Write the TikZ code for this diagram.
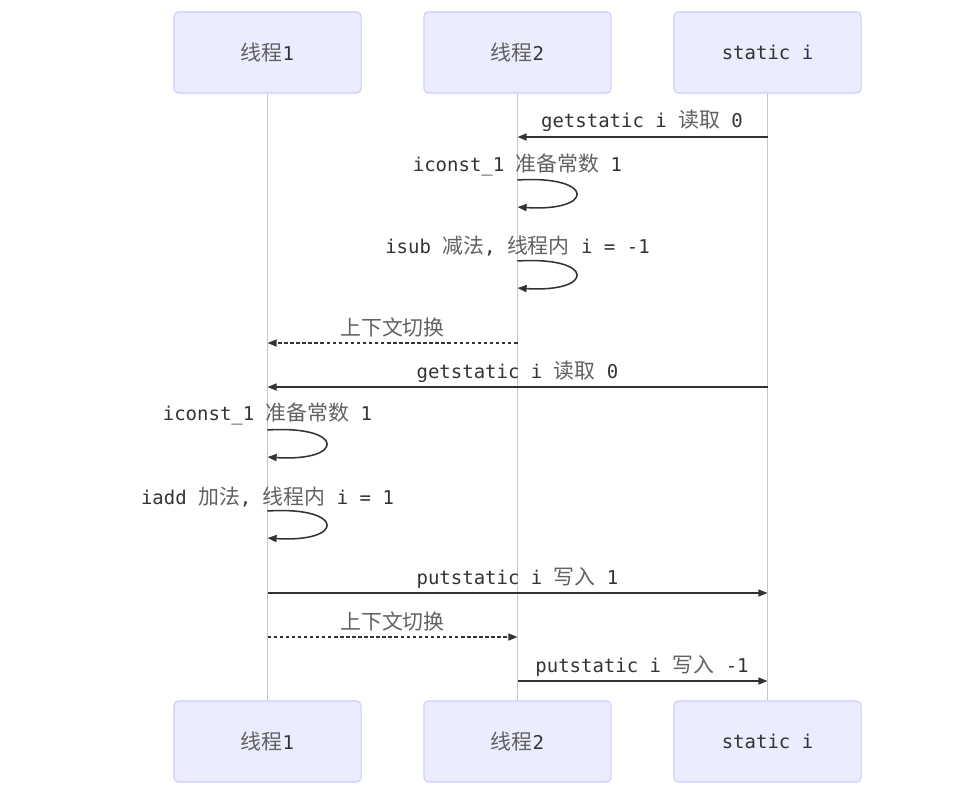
\documentclass[tikz,border=0pt]{standalone}
\usepackage{fontspec}
\setmainfont{DejaVu Sans Mono}
\newfontfamily\cjk{Noto Sans CJK SC}[Scale=1.1]
\usetikzlibrary{arrows.meta}
\definecolor{actorfill}{HTML}{ECECFF}
\definecolor{actorline}{HTML}{CCCCFF}
\definecolor{msgline}{HTML}{333333}
\newcommand{\zh}[1]{{\cjk\color{black!62}#1}}

\begin{document}
\begin{tikzpicture}[x=0.025cm,y=-0.025cm]
    \tikzstyle{every node}=[font=\fontsize{13.5}{16}\selectfont,text=msgline,inner sep=0pt];
    \tikzstyle{actor}=[draw=actorline,fill=actorfill,line width=0.75pt,rounded corners=3pt,minimum width=4.675cm,minimum height=2.025cm];
    \tikzstyle{life}=[draw=black!22,line width=0.8pt];
    \tikzstyle{msg}=[draw=msgline,line width=1.1pt,-{Triangle[length=6.5pt,width=5pt]}];
    \tikzstyle{switch}=[msg,dash pattern=on 2.5pt off 1.8pt];
    \useasboundingbox (0,0) rectangle (958,801);

    % participants
    \node[actor] at (267.5,52.5)  (p1) {\zh{线程}1};
    \node[actor] at (517.5,52.5)  (p2) {\zh{线程}2};
    \node[actor] at (767.5,52.5)  (p3) {static i};
    \node[actor] at (267.5,741.5) (q1) {\zh{线程}1};
    \node[actor] at (517.5,741.5) (q2) {\zh{线程}2};
    \node[actor] at (767.5,741.5) (q3) {static i};

    \draw[life] (p1) to (q1);
    \draw[life] (p2) to (q2);
    \draw[life] (p3) to (q3);

    % message ends
    \coordinate (m1s) at (767.5,137);
    \coordinate (m1e) at (517.5,137);
    \coordinate (m2s) at (517.5,180);
    \coordinate (m2e) at (517.5,207);
    \coordinate (m3s) at (517.5,261);
    \coordinate (m3e) at (517.5,288);
    \coordinate (m4s) at (517.5,343);
    \coordinate (m4e) at (267.5,343);
    \coordinate (m5s) at (767.5,387);
    \coordinate (m5e) at (267.5,387);
    \coordinate (m6s) at (267.5,430);
    \coordinate (m6e) at (267.5,457);
    \coordinate (m7s) at (267.5,511);
    \coordinate (m7e) at (267.5,538);
    \coordinate (m8s) at (267.5,593);
    \coordinate (m8e) at (767.5,593);
    \coordinate (m9s) at (267.5,637);
    \coordinate (m9e) at (517.5,637);
    \coordinate (m10s) at (517.5,681);
    \coordinate (m10e) at (767.5,681);

    % labels
    \node at (642,121) (l1) {getstatic i \zh{读取} 0};
    \node at (517.5,165) (l2) {iconst\_1 \zh{准备常数} 1};
    \node at (517.5,246) (l3) {isub \zh{减法}, \zh{线程内} i = -1};
    \node at (392.5,327) (l4) {\zh{上下文切换}};
    \node at (517.5,372) (l5) {getstatic i \zh{读取} 0};
    \node at (267.5,414) (l6) {iconst\_1 \zh{准备常数} 1};
    \node at (267.5,497) (l7) {iadd \zh{加法}, \zh{线程内} i = 1};
    \node at (517.5,578) (l8) {putstatic i \zh{写入} 1};
    \node at (392.5,621) (l9) {\zh{上下文切换}};
    \node at (642,666) (l10) {putstatic i \zh{写入} -1};

    \draw[msg] (m1s) to (m1e);
    \draw[msg] (m2s) .. controls +(78,-5) and +(78,5) .. (m2e);
    \draw[msg] (m3s) .. controls +(78,-5) and +(78,5) .. (m3e);
    \draw[switch] (m4s) to (m4e);
    \draw[msg] (m5s) to (m5e);
    \draw[msg] (m6s) .. controls +(78,-5) and +(78,5) .. (m6e);
    \draw[msg] (m7s) .. controls +(78,-5) and +(78,5) .. (m7e);
    \draw[msg] (m8s) to (m8e);
    \draw[switch] (m9s) to (m9e);
    \draw[msg] (m10s) to (m10e);
\end{tikzpicture}
\end{document}
